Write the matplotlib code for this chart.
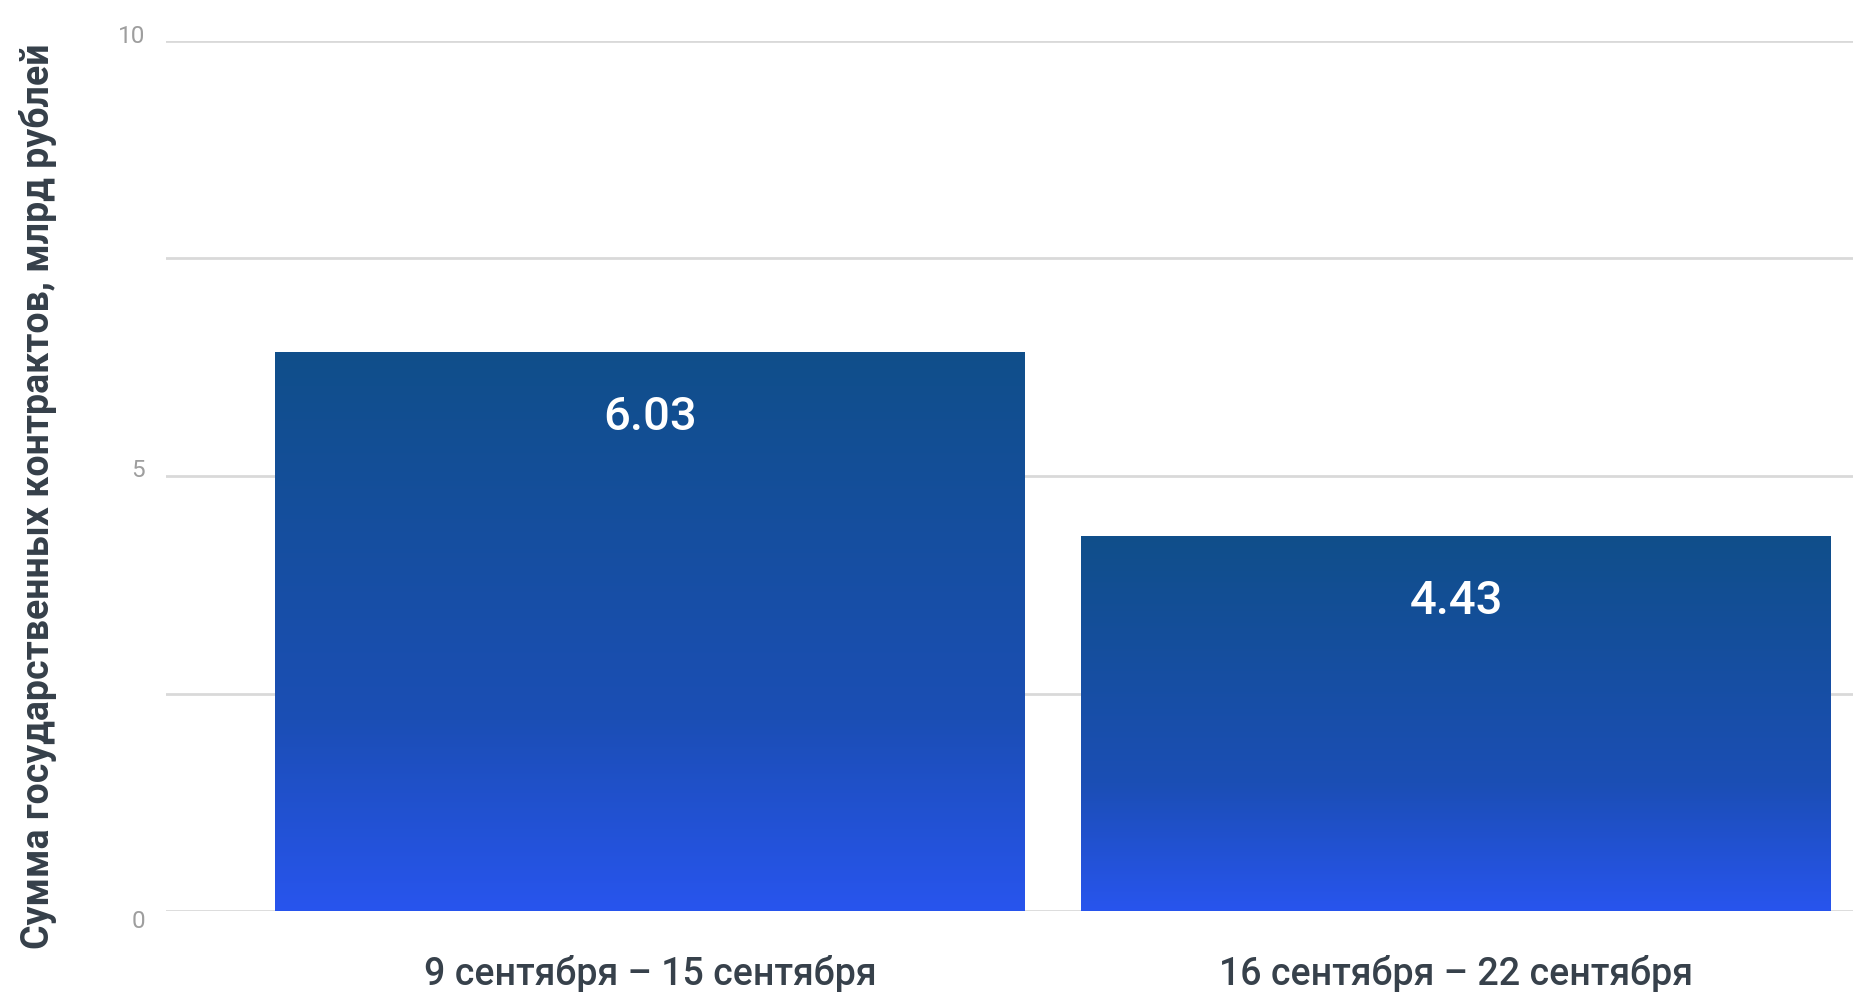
import matplotlib
matplotlib.use('Agg')
import matplotlib.pyplot as plt
import numpy as np
from matplotlib.colors import LinearSegmentedColormap

categories = ["9 сентября – 15 сентября", "16 сентября – 22 сентября"]
bar_values = [6.43, 4.31]          # bar heights as read against the axis
value_labels = ["6.03", "4.43"]    # data labels printed on the bars
y_ticks = [0, 5, 10]
y_tick_labels = ["0", "5", "10"]
y_grid = [0, 2.5, 5, 7.5, 10]
y_label = "Сумма государственных контрактов, млрд рублей"

plt.rcParams['font.family'] = ['Roboto', 'DejaVu Sans']

W, H = 1853, 992
fig = plt.figure(figsize=(W / 100, H / 100), dpi=100)
ax = fig.add_axes([166 / W, 1 - 911 / H, (W - 166) / W, (911 - 41) / H])

x = np.arange(len(categories))
width = 0.93
bars = ax.bar(x, bar_values, width=width, color='none', edgecolor='none', zorder=2)

cmap = LinearSegmentedColormap.from_list(
    'g', [(0.0, '#2855EE'), (0.34, '#1B4EB5'), (1.0, '#104F8A')])
grad = np.linspace(0, 1, 256).reshape(-1, 1)
for b in bars:
    x0, y0 = b.get_x(), b.get_y()
    w, h = b.get_width(), b.get_height()
    im = ax.imshow(grad, cmap=cmap, origin='lower', extent=[x0, x0 + w, y0, y0 + h],
                   aspect='auto', zorder=2, interpolation='bicubic')
    im.set_clip_path(b)

ax.set_xlim(-0.6005, 1.4925)
ax.set_ylim(0, 10)

ax.set_yticks(y_grid)
ax.set_yticklabels([])
ax.grid(axis='y', color='#D9D9D9', lw=2)
ax.set_axisbelow(True)
ax.tick_params(axis='both', length=0)
for s in ax.spines.values():
    s.set_visible(False)

offsets = {0: -17, 5: -1, 10: -2}
for t, lab in zip(y_ticks, y_tick_labels):
    ax.annotate(lab, xy=(0, t), xycoords=('axes fraction', 'data'),
                xytext=(-21, offsets.get(t, 0)), textcoords='offset pixels',
                ha='right', va='baseline', fontsize=17.5, color='#9E9E9E')

ax.set_xticks(x)
ax.set_xticklabels(categories, fontsize=27, color='#37414B', fontweight='medium')
ax.tick_params(axis='x', pad=32)

for xi, v, lab in zip(x, bar_values, value_labels):
    ax.annotate(lab, xy=(xi, v), xytext=(0, -65), textcoords='offset pixels',
                ha='center', va='center', fontsize=34, color='white',
                fontweight='medium', zorder=3)

fig.text(38 / W, 1 - 496 / H, y_label, rotation=90, ha='center', va='center',
         fontsize=27, fontweight='bold', color='#353F49')

fig.savefig('out.png', dpi=100, facecolor='white')
